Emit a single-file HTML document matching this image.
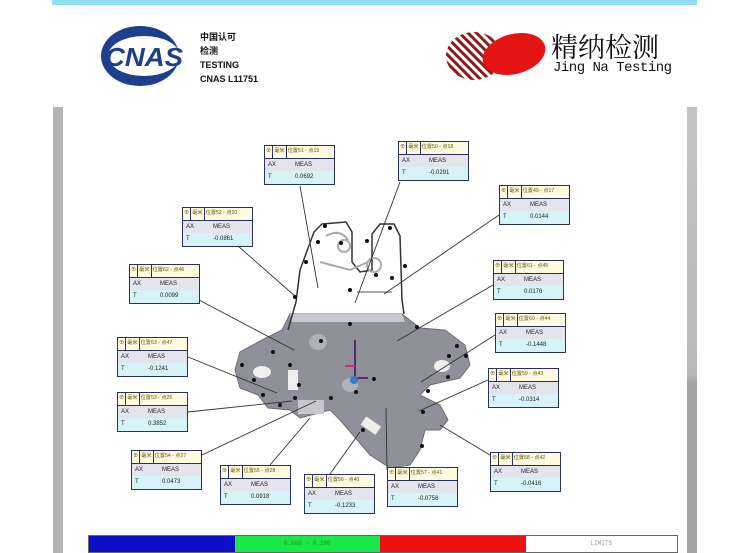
<!DOCTYPE html>
<html><head><meta charset="utf-8"><style>
body{margin:0;width:750px;height:553px;background:#fff;position:relative;overflow:hidden;font-family:"Liberation Sans","Noto Sans CJK SC",sans-serif}
.a{position:absolute}
.box{position:absolute;width:71px;height:40px;border:1.5px solid #2a3060;font-size:6px;color:#223;box-sizing:border-box;background:#fff}
.h{height:12px;border-bottom:1px solid #2a3060;display:flex;background:#fffbe0;font-size:5.2px}
.h span{border-right:1px solid #2a3060;display:block;line-height:11px;padding:0 1px;color:#665500;white-space:nowrap;overflow:hidden}
.h span:last-child{border-right:none;flex:1}
.r2{height:12px;background:#e4e4ec;line-height:12px;position:relative}
.r3{height:13px;background:#d6f4f8;line-height:13px;position:relative}
.r2 i,.r3 i{position:absolute;left:3px;font-style:normal}
.r2 b,.r3 b{position:absolute;left:30px;font-weight:normal}
</style></head><body>
<div class="a" style="left:52px;top:0;width:645px;height:5px;background:#8fdfee"></div>
<svg class="a" style="left:100px;top:24px" width="90" height="64">
<ellipse cx="40" cy="32" rx="39" ry="30" fill="#1d3f8c"/>
<ellipse cx="44" cy="32" rx="36" ry="20" fill="#fff"/>
<text x="5" y="42" font-family="Liberation Sans" font-weight="bold" font-style="italic" font-size="26" fill="#1d3f8c" textLength="78" lengthAdjust="spacingAndGlyphs">CNAS</text>
</svg>
<div class="a" style="left:200px;top:30px;font-size:9px;font-weight:bold;line-height:14px;color:#111">中国认可<br>检测<br>TESTING<br>CNAS L11751</div>
<svg class="a" style="left:444px;top:28px" width="110" height="54">
<defs><pattern id="st" width="6" height="6" patternUnits="userSpaceOnUse" patternTransform="rotate(-45)"><rect width="3" height="6" fill="#8a1c1c"/></pattern></defs>
<ellipse cx="30" cy="28" rx="28" ry="24" fill="url(#st)"/>
<ellipse cx="70" cy="26" rx="32" ry="20" fill="#e51414" transform="rotate(-15 70 26)"/>
</svg>
<div class="a" style="left:551px;top:30px;font-size:27px;line-height:32px;color:#111;font-family:'Noto Serif CJK SC','Noto Sans CJK SC',sans-serif">精纳检测</div>
<div class="a" style="left:553px;top:60px;font-size:14px;font-family:'Liberation Mono',monospace;color:#111;letter-spacing:-0.5px">Jing Na Testing</div>
<div class="a" style="left:53px;top:107px;width:10px;height:446px;background:#b4b4b4"></div>
<div class="a" style="left:687px;top:107px;width:10px;height:446px;background:linear-gradient(#c4c4c4,#b8b8b8 60%,#a4a4a4 62%,#a4a4a4)"></div>
<svg class="a" style="left:0;top:0" width="750" height="553">
<path d="M290,314 L402,314 L420,328 L445,330 L465,345 L470,365 L460,378 L430,385 L420,395 L440,405 L448,420 L440,430 L425,430 L420,450 L410,465 L390,468 L370,455 L340,420 L330,410 L300,418 L290,410 L268,408 L258,395 L240,388 L235,370 L240,352 L262,340 L282,330 Z" fill="#8f9098" stroke="#6e6e78" stroke-width="1"/>
<path d="M290,314 L402,314 L405,322 L292,322Z" fill="#c8c8d0"/>
<path d="M296,302 L300,270 L314,232 L322,224 L346,222 L352,232 L352,262 L360,272 L372,270 L372,234 L380,224 L394,224 L400,236 L402,300 L404,314" fill="none" stroke="#333" stroke-width="1.5"/>
<path d="M296,302 L288,330" stroke="#333" stroke-width="1.5"/>
<path d="M326,236 q14,-8 22,4 M344,240 a6,6 0 1 0 0.1,0 M374,258 a7,7 0 1 0 0.1,0 M320,262 L350,270 L368,262 M357,292 L392,292" fill="none" stroke="#aaa" stroke-width="2"/>
<ellipse cx="262" cy="372" rx="9" ry="6" fill="#eee"/><ellipse cx="442" cy="366" rx="8" ry="6" fill="#eee"/>
<ellipse cx="318" cy="342" rx="9" ry="8" fill="#b0b0b8"/><ellipse cx="350" cy="385" rx="8" ry="7" fill="#b0b0b8"/>
<rect x="288" y="370" width="10" height="20" fill="#eee"/><rect x="362" y="420" width="18" height="10" fill="#eee" transform="rotate(35 370 425)"/>
<rect x="298" y="400" width="26" height="14" fill="#c8c8cc"/>
<path d="M355,340 L355,378 L368,378" stroke="#4a3070" stroke-width="2" fill="none"/><path d="M345,366 L355,366" stroke="#d03070" stroke-width="2"/>
<circle cx="354" cy="380" r="4" fill="#3a7acc"/>
<g stroke="#333" stroke-width="0.9">
<line x1="300" y1="186" x2="318" y2="288"/><line x1="400" y1="182" x2="355" y2="303"/><line x1="499" y1="215" x2="384" y2="294"/>
<line x1="238" y1="246" x2="296" y2="297"/><line x1="199" y1="300" x2="294" y2="350"/><line x1="493" y1="285" x2="397" y2="341"/>
<line x1="495" y1="335" x2="421" y2="382"/><line x1="188" y1="357" x2="277" y2="393"/><line x1="488" y1="380" x2="419" y2="411"/>
<line x1="188" y1="412" x2="292" y2="401"/><line x1="202" y1="455" x2="316" y2="401"/><line x1="270" y1="465" x2="310" y2="418"/>
<line x1="330" y1="474" x2="360" y2="432"/><line x1="387" y1="470" x2="386" y2="408"/><line x1="490" y1="455" x2="440" y2="425"/>
</g>
<g fill="#111">
<circle cx="325" cy="226" r="2"/><circle cx="341" cy="243" r="2"/><circle cx="318" cy="242" r="2"/><circle cx="306" cy="262" r="2"/><circle cx="390" cy="228" r="2"/><circle cx="367" cy="241" r="2"/><circle cx="376" cy="275" r="2"/><circle cx="392" cy="278" r="2"/><circle cx="405" cy="266" r="2"/><circle cx="350" cy="290" r="2"/><circle cx="295" cy="297" r="2"/>
<circle cx="350" cy="324" r="2"/><circle cx="321" cy="341" r="2"/><circle cx="417" cy="327" r="2"/><circle cx="457" cy="346" r="2"/><circle cx="466" cy="356" r="2"/><circle cx="449" cy="356" r="2"/><circle cx="448" cy="377" r="2"/><circle cx="273" cy="352" r="2"/><circle cx="242" cy="365" r="2"/><circle cx="254" cy="380" r="2"/><circle cx="263" cy="395" r="2"/><circle cx="280" cy="405" r="2"/><circle cx="295" cy="398" r="2"/><circle cx="356" cy="392" r="2"/><circle cx="374" cy="379" r="2"/><circle cx="363" cy="430" r="2"/><circle cx="423" cy="412" r="2"/><circle cx="422" cy="446" r="2"/><circle cx="428" cy="391" r="2"/><circle cx="299" cy="385" r="2"/><circle cx="290" cy="365" r="2"/><circle cx="331" cy="398" r="2"/>
</g>
</svg>
<div class="box" style="left:264px;top:145px"><div class="h"><span>⊕</span><span>毫米</span><span>位置51 - 点19</span></div><div class="r2"><i>AX</i><b>MEAS</b></div><div class="r3"><i>T</i><b>0.0692</b></div></div>
<div class="box" style="left:398px;top:141px"><div class="h"><span>⊕</span><span>毫米</span><span>位置50 - 点18</span></div><div class="r2"><i>AX</i><b>MEAS</b></div><div class="r3"><i>T</i><b>-0.0291</b></div></div>
<div class="box" style="left:499px;top:185px"><div class="h"><span>⊕</span><span>毫米</span><span>位置49 - 点17</span></div><div class="r2"><i>AX</i><b>MEAS</b></div><div class="r3"><i>T</i><b>0.0144</b></div></div>
<div class="box" style="left:182px;top:207px"><div class="h"><span>⊕</span><span>毫米</span><span>位置52 - 点20</span></div><div class="r2"><i>AX</i><b>MEAS</b></div><div class="r3"><i>T</i><b>-0.0861</b></div></div>
<div class="box" style="left:129px;top:264px"><div class="h"><span>⊕</span><span>毫米</span><span>位置62 - 点46</span></div><div class="r2"><i>AX</i><b>MEAS</b></div><div class="r3"><i>T</i><b>0.0099</b></div></div>
<div class="box" style="left:493px;top:260px"><div class="h"><span>⊕</span><span>毫米</span><span>位置61 - 点45</span></div><div class="r2"><i>AX</i><b>MEAS</b></div><div class="r3"><i>T</i><b>0.0176</b></div></div>
<div class="box" style="left:495px;top:313px"><div class="h"><span>⊕</span><span>毫米</span><span>位置60 - 点44</span></div><div class="r2"><i>AX</i><b>MEAS</b></div><div class="r3"><i>T</i><b>-0.1448</b></div></div>
<div class="box" style="left:117px;top:337px"><div class="h"><span>⊕</span><span>毫米</span><span>位置63 - 点47</span></div><div class="r2"><i>AX</i><b>MEAS</b></div><div class="r3"><i>T</i><b>-0.1241</b></div></div>
<div class="box" style="left:488px;top:368px"><div class="h"><span>⊕</span><span>毫米</span><span>位置59 - 点43</span></div><div class="r2"><i>AX</i><b>MEAS</b></div><div class="r3"><i>T</i><b>-0.0314</b></div></div>
<div class="box" style="left:117px;top:392px"><div class="h"><span>⊕</span><span>毫米</span><span>位置53 - 点26</span></div><div class="r2"><i>AX</i><b>MEAS</b></div><div class="r3"><i>T</i><b>0.3852</b></div></div>
<div class="box" style="left:131px;top:450px"><div class="h"><span>⊕</span><span>毫米</span><span>位置54 - 点27</span></div><div class="r2"><i>AX</i><b>MEAS</b></div><div class="r3"><i>T</i><b>0.0473</b></div></div>
<div class="box" style="left:220px;top:465px"><div class="h"><span>⊕</span><span>毫米</span><span>位置55 - 点28</span></div><div class="r2"><i>AX</i><b>MEAS</b></div><div class="r3"><i>T</i><b>0.0918</b></div></div>
<div class="box" style="left:304px;top:474px"><div class="h"><span>⊕</span><span>毫米</span><span>位置56 - 点40</span></div><div class="r2"><i>AX</i><b>MEAS</b></div><div class="r3"><i>T</i><b>-0.1233</b></div></div>
<div class="box" style="left:387px;top:467px"><div class="h"><span>⊕</span><span>毫米</span><span>位置57 - 点41</span></div><div class="r2"><i>AX</i><b>MEAS</b></div><div class="r3"><i>T</i><b>-0.0758</b></div></div>
<div class="box" style="left:490px;top:452px"><div class="h"><span>⊕</span><span>毫米</span><span>位置58 - 点42</span></div><div class="r2"><i>AX</i><b>MEAS</b></div><div class="r3"><i>T</i><b>-0.0416</b></div></div>
<div class="a" style="left:88px;top:535px;width:590px;height:18px;border:1px solid #666;box-sizing:border-box;display:flex;font-size:6px;font-family:'Liberation Mono',monospace">
<div style="flex:1;background:#0a10c8"></div>
<div style="flex:1;background:#18e848;color:#2a8a2a;text-align:center;line-height:16px">0.000 ~ 0.100</div>
<div style="flex:1;background:#f01010"></div>
<div style="flex:1.04;background:#fff;color:#999;text-align:center;line-height:16px">LIMITS</div>
</div>
</body></html>
